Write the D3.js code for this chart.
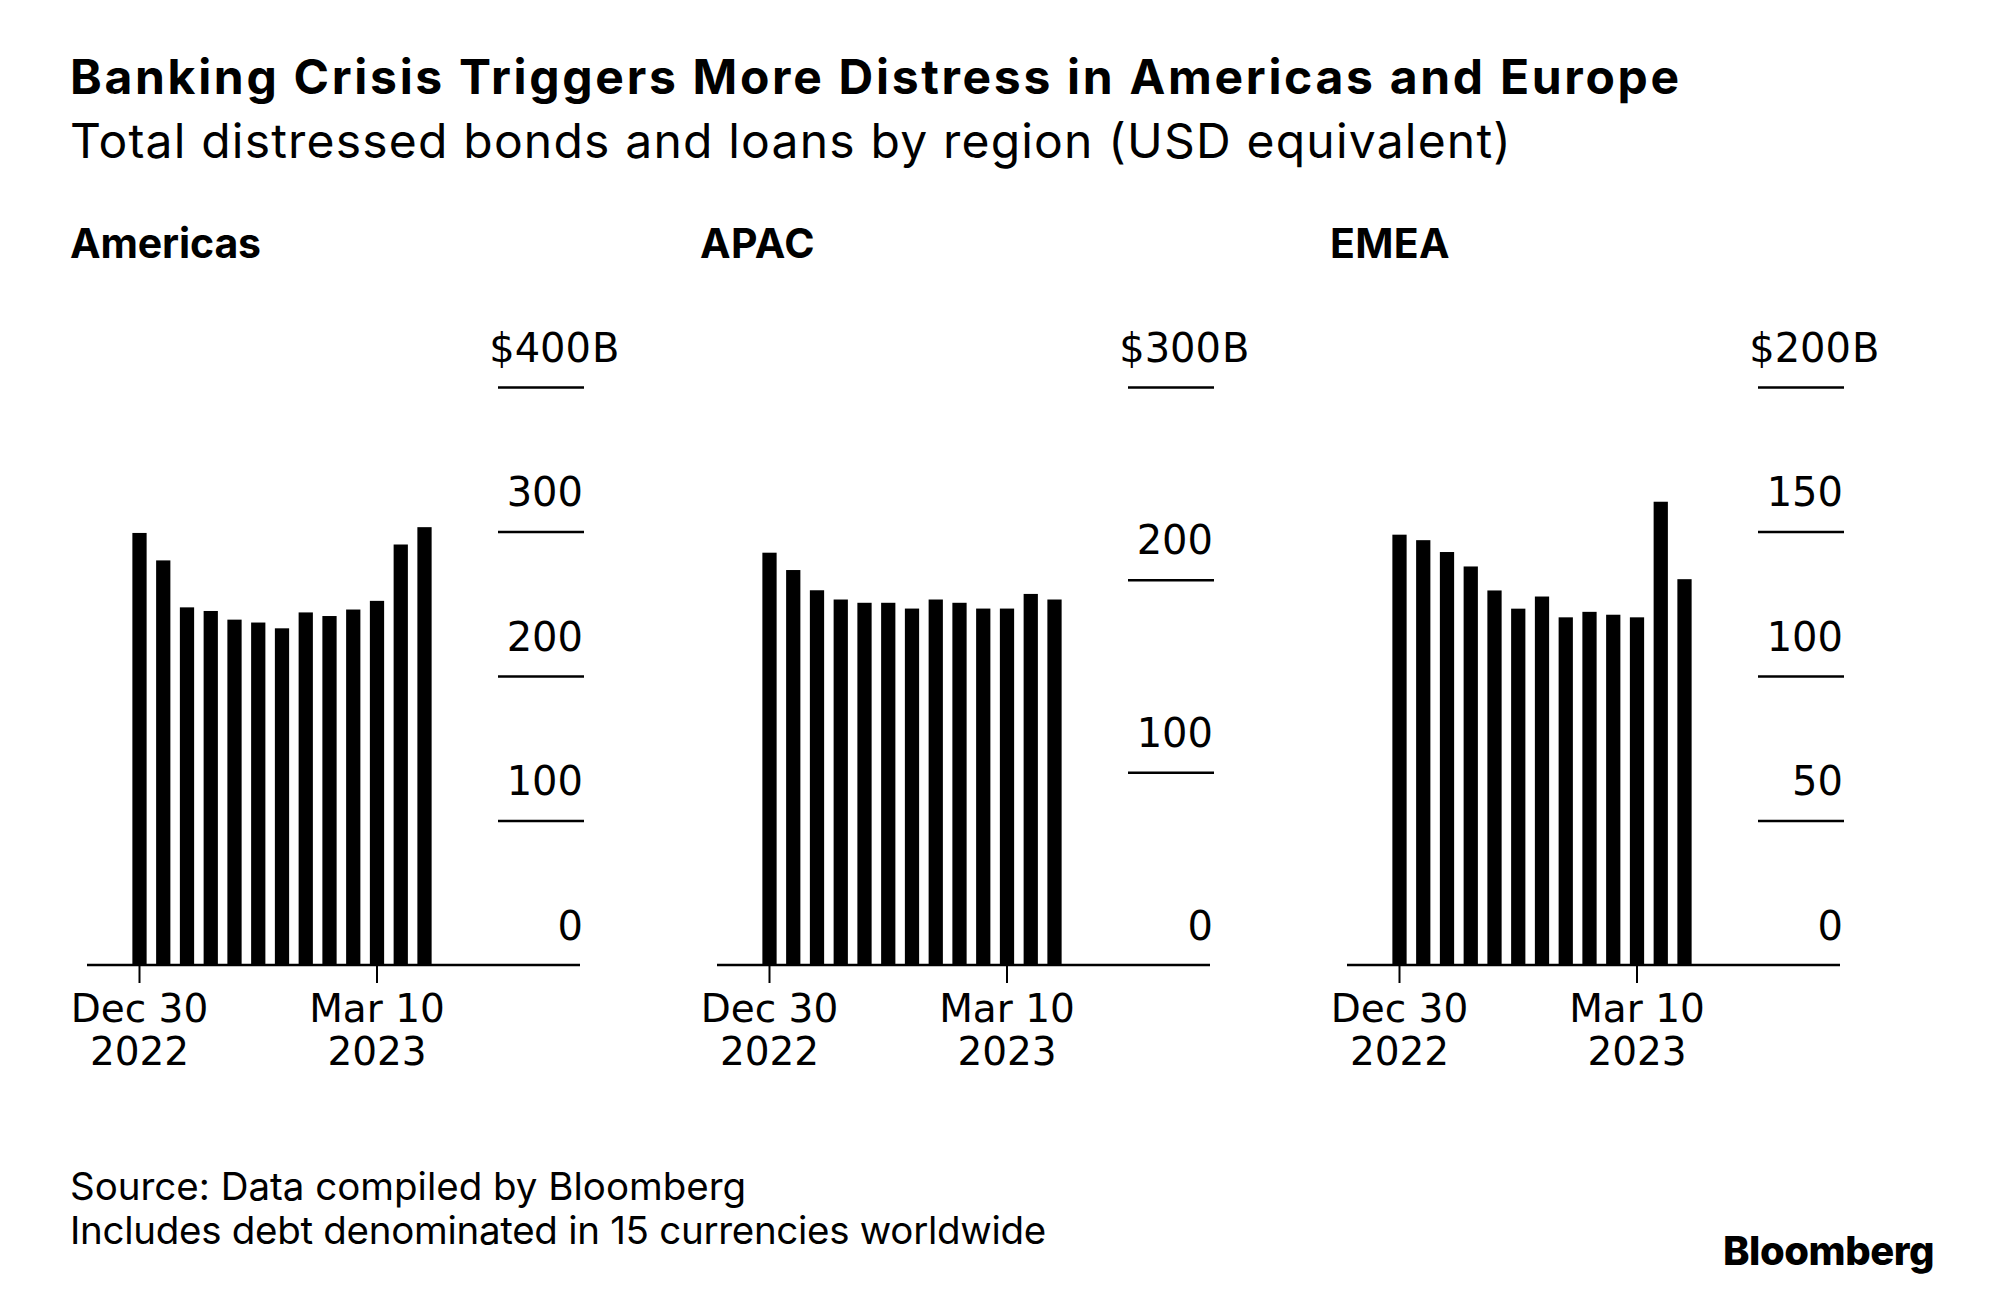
<!DOCTYPE html>
<html>
<head>
<meta charset="utf-8">
<script src="https://cdn.jsdelivr.net/npm/d3@7"></script>
<style>
  body { margin: 0; background: #fff; }
  text { fill: #000; }
</style>
</head>
<body>
<div id="chart"></div>
<script>
// weekly observations, Dec 30 2022 .. Mar 24 2023
var weeks = ["2022-12-30", "2023-01-06", "2023-01-13", "2023-01-20", "2023-01-27",
             "2023-02-03", "2023-02-10", "2023-02-17", "2023-02-24", "2023-03-03",
             "2023-03-10", "2023-03-17", "2023-03-24"];

// distressed debt, $B
var americas = [299, 280, 247.5, 245, 239, 237, 233, 244, 241.5, 246, 252, 291, 303];
var apac     = [214, 205, 194.5, 189.7, 188, 188, 185, 189.7, 188, 185, 185, 192.6, 189.7];
var emea     = [148.9, 147, 142.9, 137.9, 129.6, 123.3, 127.5, 120.3, 122.2, 121.2, 120.3, 160.3, 133.5];

var regions = ["Americas", "APAC", "EMEA"];
var yMax = [400, 300, 200];
var yTicks = [[0, 100, 200, 300, 400], [0, 100, 200, 300], [0, 50, 100, 150, 200]];
var tickWeeks = ["2022-12-30", "2023-03-10"];
var tickLabels = [["Dec 30", "2022"], ["Mar 10", "2023"]];

var series = [americas, apac, emea];

var W = 2000, H = 1313;
var sans = "Inter, 'Liberation Sans', Arial, sans-serif";
var axisFont = "'DejaVu Sans', sans-serif";

var svg = d3.select("#chart").append("svg")
    .attr("width", W)
    .attr("height", H);

// squeeze / stretch tracking so a line of text ends where it should
function fit(t, w) {
  var n = t.text().length;
  var cur = t.node().getComputedTextLength();
  t.attr("letter-spacing", ((w - cur) / n).toFixed(2));
}

// headline
fit(svg.append("text")
    .attr("x", 70).attr("y", 94)
    .style("font-family", sans).style("font-weight", 700).style("font-size", "48px")
    .text("Banking Crisis Triggers More Distress in Americas and Europe"), 1612);

fit(svg.append("text")
    .attr("x", 70).attr("y", 158)
    .style("font-family", sans).style("font-size", "48px")
    .text("Total distressed bonds and loans by region (USD equivalent)"), 1442);

// panels
var baseY = 965, topY = 387, step = 23.75;

regions.forEach(function(name, i) {
  var L = 70 + 630 * i;
  var g = svg.append("g");

  fit(g.append("text")
      .attr("x", L).attr("y", 258)
      .style("font-family", sans).style("font-weight", 700).style("font-size", "41px")
      .text(name), [191, 115, 120][i]);

  var c0 = L + 69.5;
  var x = d3.scaleBand()
      .domain(weeks)
      .range([c0 - step / 2, c0 + (weeks.length - 1) * step + step / 2])
      .paddingInner(0.4)
      .paddingOuter(0.2);

  var y = d3.scaleLinear()
      .domain([0, yMax[i]])
      .range([baseY, topY]);

  // y axis: short rules on the right with labels sitting above them
  var ya = g.append("g")
      .attr("transform", "translate(" + (L + 514) + ",0)")
      .call(d3.axisLeft(y)
        .tickValues(yTicks[i])
        .tickSize(86)
        .tickFormat(function(d) { return d === yMax[i] ? "$" + d : d; }));
  ya.select(".domain").remove();
  ya.selectAll(".tick line")
      .attr("stroke", "#000")
      .attr("stroke-width", 2.5)
      .filter(function(d) { return d === 0; }).remove();
  ya.selectAll(".tick text")
      .attr("x", function(d) { return d === yMax[i] ? 7 : -1; })
      .attr("y", -26)
      .attr("dy", null)
      .attr("text-anchor", "end")
      .style("font-family", axisFont)
      .style("font-size", "40px")
      .attr("fill", "#000");
  // unit suffix hangs past the rule end
  ya.selectAll(".tick").filter(function(d) { return d === yMax[i]; })
    .append("text")
      .attr("x", 8)
      .attr("y", -26)
      .attr("text-anchor", "start")
      .style("font-family", axisFont)
      .style("font-size", "40px")
      .attr("fill", "#000")
      .text("B");

  // bars
  g.selectAll(".bar")
      .data(series[i])
    .enter().append("rect")
      .attr("class", "bar")
      .attr("x", function(d, j) { return x(weeks[j]); })
      .attr("width", x.bandwidth())
      .attr("y", function(d) { return y(d); })
      .attr("height", function(d) { return y(0) - y(d); })
      .attr("fill", "#000");

  // baseline
  g.append("line")
      .attr("x1", L + 17).attr("x2", L + 510)
      .attr("y1", y(0)).attr("y2", y(0))
      .attr("stroke", "#000")
      .attr("stroke-width", 2.5);

  // x axis
  var xa = g.append("g")
      .attr("transform", "translate(0," + y(0) + ")")
      .call(d3.axisBottom(x)
        .tickValues(tickWeeks)
        .tickSize(18)
        .tickFormat(""));
  xa.select(".domain").remove();
  xa.selectAll(".tick line").attr("stroke", "#000").attr("stroke-width", 2);
  xa.selectAll(".tick text").remove();
  xa.selectAll(".tick").append("text")
      .attr("text-anchor", "middle")
      .style("font-family", axisFont)
      .style("font-size", "39px")
      .attr("fill", "#000")
      .each(function(d, k) {
        var t = d3.select(this);
        t.append("tspan").attr("x", 0).attr("y", 57).text(tickLabels[k][0]);
        t.append("tspan").attr("x", 0).attr("y", 100).text(tickLabels[k][1]);
      });
});

// footer
fit(svg.append("text")
    .attr("x", 70).attr("y", 1200)
    .style("font-family", sans).style("font-size", "38.5px")
    .text("Source: Data compiled by Bloomberg"), 676);

fit(svg.append("text")
    .attr("x", 70).attr("y", 1244)
    .style("font-family", sans).style("font-size", "38.5px")
    .text("Includes debt denominated in 15 currencies worldwide"), 976);

fit(svg.append("text")
    .attr("x", 1723).attr("y", 1265)
    .style("font-family", sans).style("font-weight", 800).style("font-size", "40px")
    .text("Bloomberg"), 211);
</script>
</body>
</html>
